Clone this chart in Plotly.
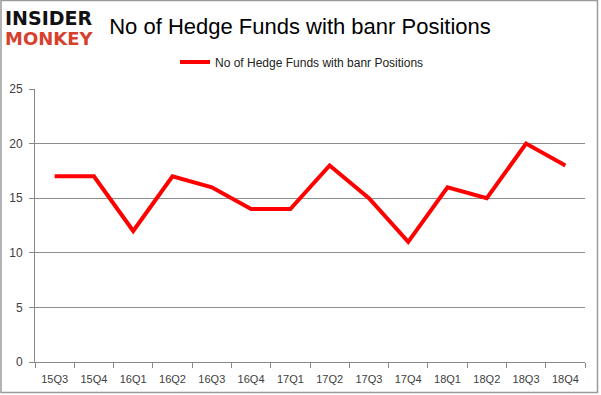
import plotly.graph_objects as go

quarters = ["15Q3", "15Q4", "16Q1", "16Q2", "16Q3", "16Q4", "17Q1", "17Q2",
            "17Q3", "17Q4", "18Q1", "18Q2", "18Q3", "18Q4"]
funds = [17, 17, 12, 17, 16, 14, 14, 18, 15, 11, 16, 15, 20, 18]
series_name = "No of Hedge Funds with banr Positions"
y_ticks = [0, 5, 10, 15, 20, 25]

fig = go.Figure()
fig.add_trace(go.Scatter(
    x=quarters, y=funds, mode="lines", name=series_name,
    line=dict(color="#ff0000", width=4),
))

L, R, T, B = 35, 16, 89, 33
W, H = 601, 395
pw, ph = W - L - R, H - T - B

def px_x(x):
    return (x - L) / pw

def px_y(y):
    return (H - B - y) / ph

fig.update_layout(
    width=W, height=H,
    margin=dict(l=L, r=R, t=T, b=B, autoexpand=False),
    paper_bgcolor="white", plot_bgcolor="white",
    font=dict(family="Liberation Sans, Arial, sans-serif", color="#404040", size=11),
    showlegend=True,
    legend=dict(orientation="h", x=px_x(302), xanchor="center", y=px_y(62), yanchor="middle",
                font=dict(size=12, color="#222"), bgcolor="rgba(0,0,0,0)"),
    title=dict(text="No of Hedge Funds with banr Positions", x=300 / W, xanchor="center",
               y=1 - 26 / H, yanchor="middle",
               font=dict(size=22, color="black", family="Liberation Sans, Arial, sans-serif")),
    xaxis=dict(type="category", showgrid=False, showline=True, linecolor="#888",
               linewidth=1, ticks="outside", tickson="boundaries", ticklen=5,
               tickcolor="#888", tickfont=dict(size=11, color="#404040"),
               ticklabelstandoff=7,
               range=[-0.5, len(quarters) - 0.5]),
    yaxis=dict(range=[0, 25], tickvals=y_ticks, showgrid=True, gridcolor="#8c8c8c",
               gridwidth=1, showline=True, linecolor="#888", ticks="outside",
               ticklen=5, tickcolor="#888", zeroline=False,
               ticklabelstandoff=4,
               tickfont=dict(size=12, color="#404040")),
)

# outer frame
fig.add_shape(type="rect", xref="paper", yref="paper",
              x0=px_x(1), x1=px_x(597.5), y0=px_y(392.5), y1=px_y(0.5),
              line=dict(color="#9a9a9a", width=1.5), layer="below")

# logo
fig.add_annotation(text="<b>INSIDER</b>", xref="paper", yref="paper",
                   x=px_x(3), y=px_y(18), xanchor="left", yanchor="middle",
                   showarrow=False,
                   font=dict(size=19, color="#111", family="DejaVu Sans, Arial Black, sans-serif"))
fig.add_annotation(text="<b>MONKEY</b>", xref="paper", yref="paper",
                   x=px_x(3), y=px_y(39), xanchor="left", yanchor="middle",
                   showarrow=False,
                   font=dict(size=18, color="#d6402d", family="DejaVu Sans, Arial Black, sans-serif"))

fig.write_html("out.html", config={"displayModeBar": False},
               post_script="document.body.style.margin='0';document.body.style.padding='0';")
